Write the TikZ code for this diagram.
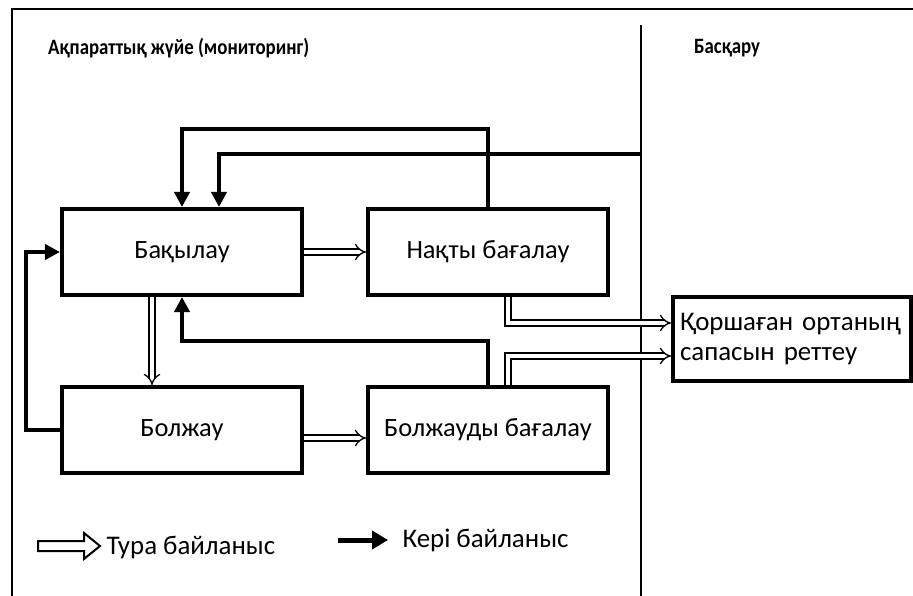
\documentclass[tikz,border=0pt]{standalone}
\usepackage{graphicx}
\usepackage{fontspec}
\setmainfont{Carlito}
\usetikzlibrary{arrows.meta,positioning}

\newcommand{\narrowhead}[1]{\scalebox{0.86}[1]{#1}}

\begin{document}
\begin{tikzpicture}[x=1bp, y=-1bp,
  every node/.style={font=\fontsize{26.5}{30}\selectfont},
  head/.style={anchor=west, inner sep=0pt, font=\fontsize{22}{24}\selectfont\bfseries},
  block/.style={draw, line width=4bp, minimum width=240bp, minimum height=86bp, inner sep=0pt},
  fwd/.style={double, double distance=4.5bp, line width=1.3bp, -{Implies}},
  fb/.style={line width=4.5bp, -{Triangle[length=15bp,width=15bp]}}]
  \useasboundingbox (0,0) rectangle (913,596);
  % рамка и разделитель
  \draw[line width=2bp] (12,596) |- (913,9);
  \draw[line width=1.6bp] (641,25) -- (641,596);
  \coordinate (ctl) at (641,154);
  % заголовки
  \node[head] (hdinfo) at (48,48) {\narrowhead{Ақпараттық жүйе (мониторинг)}};
  \node[head] (hdctl) at (694,48) {\narrowhead{Басқару}};
  % блоки
  \node[block] (bak) at (182,252) {Бақылау};
  \node[block] (nakty) at (488,252) {Нақты бағалау};
  \node[block] (bol) at (182,430) {Болжау};
  \node[block] (bolbag) at (488,430) {Болжауды бағалау};
  \node[block, minimum width=238bp, minimum height=84bp, text width=224bp, align=left,
        font=\fontsize{27}{30}\selectfont] (reg) at (792,339) {Қоршаған ортаның\\сапасын реттеу};
  % тура байланыс
  \draw[fwd] (bak.east) -- (nakty.west);
  \draw[fwd] ([yshift=-8bp]bol.east) -- ([yshift=-8bp]bolbag.west);
  \draw[fwd] ([xshift=-30bp]bak.south) -- ([xshift=-30bp]bol.north);
  \draw[fwd] ([xshift=20bp]nakty.south) |- ([yshift=16bp]reg.west);
  \draw[fwd] ([xshift=20bp]bolbag.north) |- ([yshift=-17bp]reg.west);
  % кері байланыс
  \draw[fb] (nakty.north) -- ++(0,-78) -| (bak.north);
  \draw[fb] (ctl) -| ([xshift=37bp]bak.north);
  \draw[fb] (bolbag.north) -- ++(0,-44) -| (bak.south);
  \draw[fb] (bol.west) -- ++(-34,0) |- (bak.west);
  % шартты белгілер
  \draw[line width=2bp] (38,541) -- (84,541) -- (84,533) -- (100,546) -- (84,559) -- (84,551) -- (38,551) -- cycle;
  \node[anchor=west, font=\fontsize{27}{30}\selectfont] (lgfwd) at (103,548) {Тура байланыс};
  \draw[line width=5bp, -{Triangle[length=16bp,width=18bp]}] (338,540) -- (388,540);
  \node[anchor=west, font=\fontsize{27}{30}\selectfont] (lgfb) at (399,540) {Кері байланыс};
\end{tikzpicture}
\end{document}
